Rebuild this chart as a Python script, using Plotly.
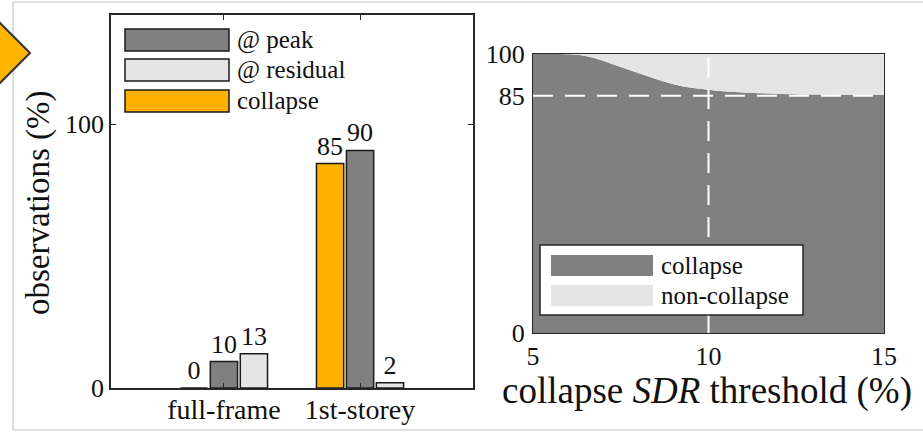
import plotly.graph_objects as go

W, H = 923, 433

# Left panel: share of observations per failure mode (%)
categories = ["full-frame", "1st-storey"]
collapse_obs = [0, 85]
peak_obs = [10, 90]
residual_obs = [13, 2]

# Right panel: share of collapse vs. SDR threshold (%)
sdr_threshold = [5, 5.5, 6, 6.5, 7, 7.5, 8, 8.5, 9, 9.5, 10, 10.5, 11, 11.5, 12, 13, 14, 15]
collapse_share = [100, 100, 99.9, 99.3, 97.6, 95.3, 93.2, 91.0, 89.2, 87.9, 87.2, 86.6,
                  86.2, 85.9, 85.7, 85.5, 85.4, 85.3]
non_collapse_share = [100 - v for v in collapse_share]

C_PEAK = "#808080"
C_RES = "#e5e5e5"
C_COL = "#ffb000"
INK = "#1a1a1a"
AX = "#262626"
FONT = "Liberation Serif, Times New Roman, serif"


def fx(p):
    return p / W


def fy(p):
    return 1 - p / H


fig = go.Figure()

bar_style = dict(
    xaxis="x", yaxis="y", textposition="outside", texttemplate="%{y}",
    cliponaxis=False, constraintext="none", showlegend=False,
    textfont=dict(family=FONT, size=26, color="#111111"),
)
fig.add_bar(x=categories, y=collapse_obs, name="collapse",
            marker=dict(color=C_COL, line=dict(color=INK, width=1.5)), **bar_style)
fig.add_bar(x=categories, y=peak_obs, name="@ peak",
            marker=dict(color=C_PEAK, line=dict(color=INK, width=1.5)), **bar_style)
fig.add_bar(x=categories, y=residual_obs, name="@ residual",
            marker=dict(color=C_RES, line=dict(color=INK, width=1.5)), **bar_style)

fig.add_scatter(x=sdr_threshold, y=collapse_share, xaxis="x2", yaxis="y2",
                stackgroup="share", mode="lines", line=dict(width=0, shape="spline"),
                fillcolor=C_PEAK, name="collapse", showlegend=False)
fig.add_scatter(x=sdr_threshold, y=non_collapse_share, xaxis="x2", yaxis="y2",
                stackgroup="share", mode="lines", line=dict(width=0, shape="spline"),
                fillcolor=C_RES, name="non-collapse", showlegend=False)

tick_font = dict(family=FONT, size=26, color="#111111")

shapes = []
# outer frame
frame = dict(type="line", xref="paper", yref="paper", line=dict(color="#dedede", width=2))
shapes.append(dict(frame, x0=fx(13), x1=fx(923), y0=fy(2), y1=fy(2)))
shapes.append(dict(frame, x0=fx(13), x1=fx(13), y0=fy(2), y1=fy(430)))
shapes.append(dict(frame, x0=fx(13), x1=fx(923), y0=fy(430), y1=fy(430)))
# marker diamond on the left edge
shapes.append(dict(type="path", xref="paper", yref="paper",
                   path=f"M {fx(30)},{fy(53)} L {fx(-2)},{fy(21)} L {fx(-34)},{fy(53)} L {fx(-2)},{fy(85)} Z",
                   fillcolor="#ffb400", line=dict(color="#333333", width=2)))

# reference lines on the right panel
dash = dict(color="white", width=2, dash="20px,12px")
shapes.append(dict(type="line", xref="x2", yref="y2", x0=5, x1=15, y0=85, y1=85, line=dash, layer="above"))
shapes.append(dict(type="line", xref="x2", yref="y2", x0=10, x1=10, y0=0, y1=100, line=dash, layer="above"))

annotations = []
# left legend
left_items = [("@ peak", C_PEAK, 29), ("@ residual", C_RES, 59), ("collapse", C_COL, 90)]
for label, col, top in left_items:
    shapes.append(dict(type="rect", xref="paper", yref="paper", x0=fx(125), x1=fx(229),
                       y0=fy(top), y1=fy(top + 22), fillcolor=col, line=dict(color=INK, width=1.5)))
    annotations.append(dict(xref="paper", yref="paper", x=fx(235), y=fy(top + 11), text=label,
                            showarrow=False, xanchor="left", yanchor="middle",
                            font=dict(family=FONT, size=25, color="#111111")))

# right legend
shapes.append(dict(type="rect", xref="paper", yref="paper", x0=fx(540), x1=fx(803),
                   y0=fy(245), y1=fy(315), fillcolor="white", line=dict(color=AX, width=1.5), layer="above"))
right_items = [("collapse", C_PEAK, 255), ("non-collapse", C_RES, 285)]
for label, col, top in right_items:
    shapes.append(dict(type="rect", xref="paper", yref="paper", x0=fx(551), x1=fx(653),
                       y0=fy(top), y1=fy(top + 21), fillcolor=col, line=dict(width=0), layer="above"))
    annotations.append(dict(xref="paper", yref="paper", x=fx(659), y=fy(top + 10), text=label,
                            showarrow=False, xanchor="left", yanchor="middle",
                            font=dict(family=FONT, size=25, color="#111111")))

# axis titles
annotations.append(dict(xref="paper", yref="paper", x=fx(39), y=fy(203), text="observations (%)",
                        textangle=-90, showarrow=False, xanchor="center", yanchor="middle",
                        font=dict(family=FONT, size=33, color="#111111")))
annotations.append(dict(xref="paper", yref="paper", x=fx(707), y=fy(391),
                        text="collapse <i>SDR</i> threshold (%)",
                        showarrow=False, xanchor="center", yanchor="middle",
                        font=dict(family=FONT, size=37, color="#111111")))

fig.update_layout(
    width=W, height=H, margin=dict(l=0, r=0, t=0, b=0, autoexpand=False),
    paper_bgcolor="white", plot_bgcolor="white",
    barmode="group", bargap=0.34, bargroupgap=0.09,
    showlegend=False, shapes=shapes, annotations=annotations,
    xaxis=dict(domain=[fx(111), fx(473)], range=[-0.83, 1.83], anchor="y", automargin=False,
               showline=True, linecolor=AX, linewidth=1.5, mirror="ticks",
               ticks="inside", ticklen=5, tickcolor=AX, ticklabelstandoff=-4,
               tickfont=dict(tick_font, size=28),
               showgrid=False, zeroline=False),
    yaxis=dict(domain=[fy(388), fy(15)], range=[0, 141.3], anchor="x", automargin=False,
               tickvals=[0, 100], showline=True, linecolor=AX, linewidth=1.5, mirror="ticks",
               ticks="inside", ticklen=5, tickcolor=AX, tickfont=tick_font,
               showgrid=False, zeroline=False),
    xaxis2=dict(domain=[fx(533), fx(884)], range=[5, 15], anchor="y2", automargin=False,
                tickvals=[5, 10, 15], showline=True, linecolor=AX, linewidth=1.2, mirror=True,
                ticks="", tickfont=tick_font,
                showgrid=False, zeroline=False),
    yaxis2=dict(domain=[fy(333), fy(54)], range=[0, 100], anchor="x2", automargin=False,
                tickvals=[0, 85, 100], showline=True, linecolor=AX, linewidth=1.2, mirror=True,
                ticks="", tickfont=tick_font, ticklabelstandoff=2,
                showgrid=False, zeroline=False),
)

fig.write_html("out.html")
